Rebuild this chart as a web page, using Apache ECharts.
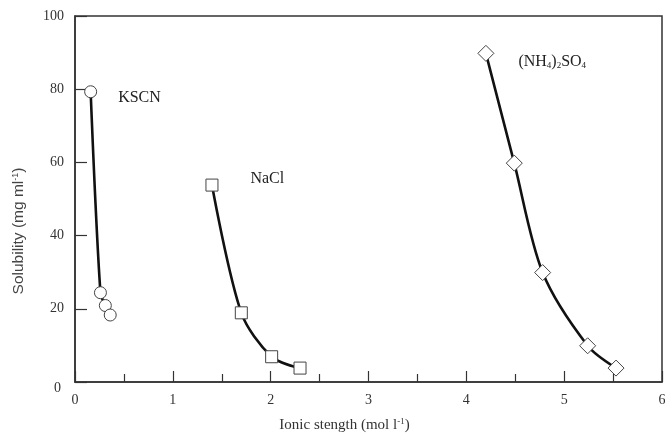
<!DOCTYPE html>
<html><head><meta charset="utf-8">
<script src="https://cdn.jsdelivr.net/npm/echarts@6/dist/echarts.min.js"></script>
<style>html,body{margin:0;padding:0;background:#fff}#c{width:665px;height:435px}</style>
</head><body><div id="c"></div>
<script>
// Data
const kscnX = [0.16, 0.26, 0.31, 0.36];
const kscnY = [79.3, 24.4, 20.9, 18.3];
const naclX = [1.40, 1.70, 2.01, 2.30];
const naclY = [53.8, 18.9, 6.9, 3.8];
const amsX = [4.20, 4.49, 4.78, 5.24, 5.53];
const amsY = [89.8, 59.8, 29.9, 9.9, 3.8];
const seriesNames = ['KSCN', 'NaCl', '(NH4)2SO4'];
const xTicks = [0, 1, 2, 3, 4, 5, 6];
const yTicks = [0, 20, 40, 60, 80, 100];

const FONT = 'Liberation Serif';
const SANS = 'Liberation Sans';
function pts(xs, ys, labelCfg) {
  return xs.map((x, i) => {
    const d = { value: [x, ys[i]] };
    if (i === 0) d.label = labelCfg;
    return d;
  });
}
const baseRich = {
  t: { fontFamily: FONT, fontSize: 16, color: '#222' },
  sub: { fontFamily: FONT, fontSize: 9, color: '#222', verticalAlign: 'bottom', padding: [9, 0, 0, 0] }
};
function lbl(text, distance, dy) {
  return { show: true, position: 'right', distance: distance, offset: [0, dy],
           formatter: text, rich: baseRich, fontFamily: FONT, fontSize: 16, color: '#222' };
}
const lineStyle = { color: '#111', width: 2.6 };
const itemStyle = { color: '#fff', borderColor: '#444', borderWidth: 1 };

const chart = echarts.init(document.getElementById('c'), null, { renderer: 'canvas' });
chart.setOption({
  animation: false,
  backgroundColor: '#fff',
  grid: { left: 75, right: 3, top: 16, bottom: 53, containLabel: false, outerBoundsMode: 'none',
          show: true, borderColor: '#333', borderWidth: 1.5, backgroundColor: 'transparent' },
  xAxis: {
    type: 'value', min: xTicks[0], max: xTicks[xTicks.length - 1], interval: 1,
    name: 'Ionic stength (mol l{sup|-1})', nameLocation: 'middle', nameGap: 35,
    nameTextStyle: { fontFamily: FONT, fontSize: 15, color: '#333', padding: [0, 48, 0, 0],
      rich: { sup: { fontFamily: FONT, fontSize: 9, color: '#333', verticalAlign: 'top', padding: [0, 0, 7, 0] } } },
    axisLine: { show: true, lineStyle: { color: '#333', width: 1.5 } },
    axisTick: { show: true, inside: true, length: 11, lineStyle: { color: '#333', width: 1.2 } },
    minorTick: { show: true, splitNumber: 2, length: 8, lineStyle: { color: '#333', width: 1.2 } },
    axisLabel: { fontFamily: FONT, fontSize: 14, color: '#333', margin: 11 },
    splitLine: { show: false }
  },
  yAxis: {
    type: 'value', min: yTicks[0], max: yTicks[yTicks.length - 1], interval: 20,
    name: 'Solubility (mg ml{sup|-1})', nameLocation: 'middle', nameGap: 48,
    nameTextStyle: { fontFamily: SANS, fontSize: 15.5, color: '#444', padding: [0, 64, 0, 0],
      rich: { sup: { fontFamily: SANS, fontSize: 9, color: '#444', verticalAlign: 'top', padding: [0, 0, 7, 0] } } },
    axisLine: { show: true, lineStyle: { color: '#333', width: 1.5 } },
    axisTick: { show: true, inside: true, length: 12, lineStyle: { color: '#333', width: 1.2 } },
    axisLabel: { fontFamily: FONT, fontSize: 14, color: '#333', margin: 11,
      formatter: v => v === 0 ? '{z|0}' : String(v),
      rich: { z: { fontFamily: FONT, fontSize: 14, color: '#333', padding: [12, 3, 0, 0] } } },
    splitLine: { show: false }
  },
  series: [
    { name: seriesNames[0], type: 'line', smooth: 0.3, symbol: 'circle', symbolSize: 12,
      lineStyle, itemStyle, data: pts(kscnX, kscnY, lbl('{t|KSCN}', 21, 6)) },
    { name: seriesNames[1], type: 'line', smooth: 0.3, symbol: 'rect', symbolSize: 12,
      lineStyle, itemStyle, data: pts(naclX, naclY, lbl('{t|NaCl}', 32, -6)) },
    { name: seriesNames[2], type: 'line', smooth: 0.3, symbol: 'diamond', symbolSize: 16,
      lineStyle, itemStyle, data: pts(amsX, amsY, lbl('{t|(NH}{sub|4}{t|)}{sub|2}{t|SO}{sub|4}', 24, 8)) }
  ]
});
</script></body></html>
